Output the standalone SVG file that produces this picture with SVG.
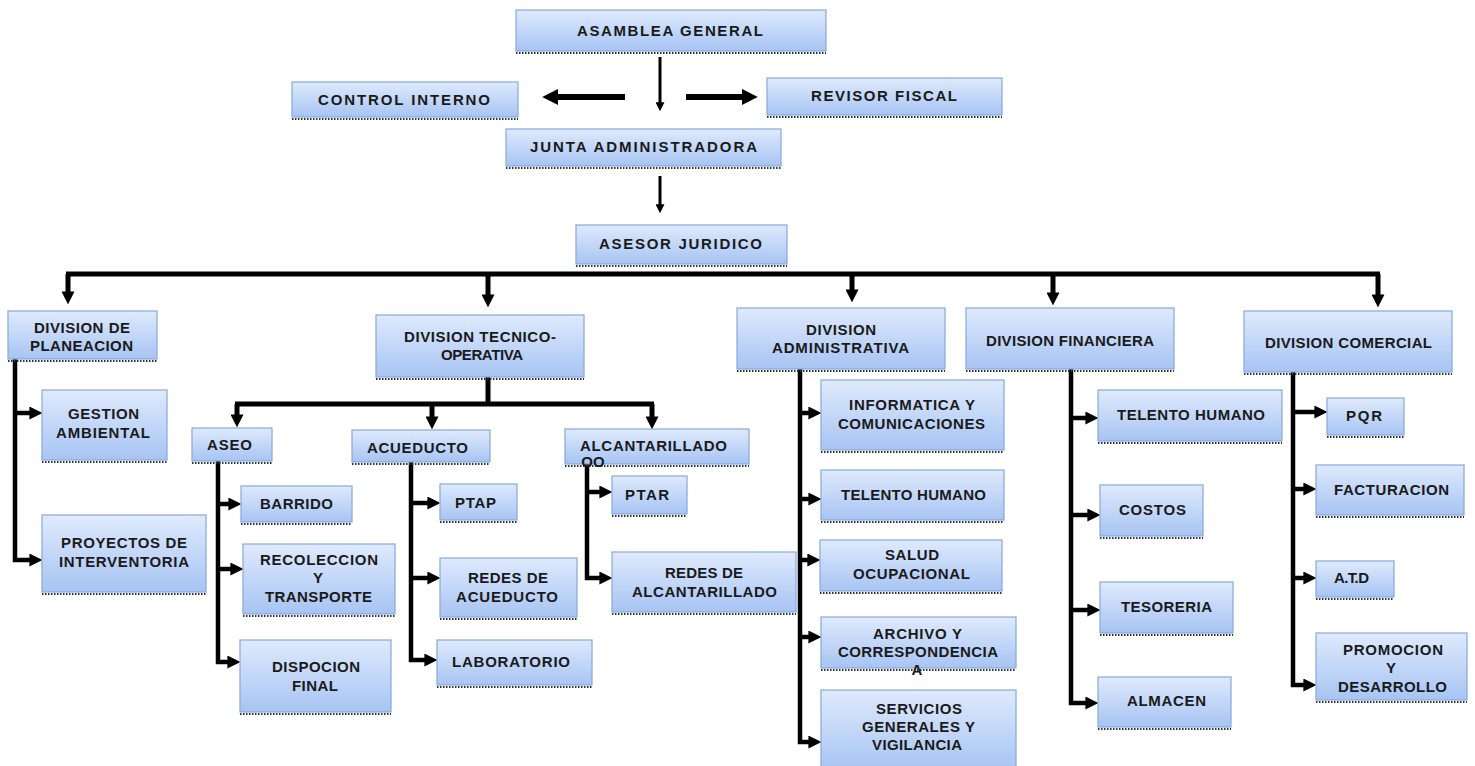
<svg xmlns="http://www.w3.org/2000/svg" width="1475" height="766" viewBox="0 0 1475 766">
<defs>
<linearGradient id="g" x1="0" y1="0" x2="0" y2="1">
<stop offset="0" stop-color="#dfeafd"/>
<stop offset="1" stop-color="#a7c4f3"/>
</linearGradient>
<marker id="ah" viewBox="0 0 10 10" refX="2" refY="5" markerWidth="13" markerHeight="13" markerUnits="userSpaceOnUse" orient="auto">
<path d="M0,0 L10,5 L0,10 z" fill="#000"/>
</marker>
<marker id="as" viewBox="0 0 10 10" refX="2" refY="5" markerWidth="9" markerHeight="9" markerUnits="userSpaceOnUse" orient="auto">
<path d="M0,0 L10,5 L0,10 z" fill="#000"/>
</marker>
<marker id="ab" viewBox="0 0 10 10" refX="2" refY="5" markerWidth="16" markerHeight="16" markerUnits="userSpaceOnUse" orient="auto">
<path d="M0,0 L10,5 L0,10 z" fill="#000"/>
</marker>
</defs>
<style>
.box{fill:url(#g);stroke:#86a8dc;stroke-width:1.2}
.dt{stroke:#333;stroke-width:2;stroke-dasharray:1.5 1.5;fill:none}
text{font-family:"Liberation Sans",Arial,sans-serif;font-size:15px;font-weight:bold;fill:#1a1a1a;text-anchor:middle}
.c{fill:none;stroke:#000;stroke-width:4.5}
.c3{fill:none;stroke:#000;stroke-width:3}
.c6{fill:none;stroke:#000;stroke-width:6}
.c5{fill:none;stroke:#000;stroke-width:5}
</style>
<rect width="1475" height="766" fill="#fff"/>

<g id="connectors">
<path class="c3" d="M660,57 V104" marker-end="url(#as)"/>
<path class="c6" d="M625,97 H555" marker-end="url(#ab)"/>
<path class="c6" d="M686,97 H745" marker-end="url(#ab)"/>
<path class="c3" d="M660,176 V206" marker-end="url(#as)"/>

<path class="c5" d="M66,274 H1380"/>
<path class="c5" d="M68,274 V294" marker-end="url(#ah)"/>
<path class="c5" d="M488,274 V297" marker-end="url(#ah)"/>
<path class="c5" d="M852,274 V292" marker-end="url(#ah)"/>
<path class="c5" d="M1053,274 V295" marker-end="url(#ah)"/>
<path class="c5" d="M1378,274 V297" marker-end="url(#ah)"/>

<path class="c" d="M15,359 V560 H32" marker-end="url(#ah)"/>
<path class="c" d="M15,413 H32" marker-end="url(#ah)"/>

<path class="c5" d="M488,377 V404"/>
<path class="c5" d="M235,404 H654"/>
<path class="c5" d="M237,404 V417" marker-end="url(#ah)"/>
<path class="c5" d="M432,404 V419" marker-end="url(#ah)"/>
<path class="c5" d="M652,404 V419" marker-end="url(#ah)"/>

<path class="c" d="M218,461 V662 H230" marker-end="url(#ah)"/>
<path class="c" d="M218,504 H231" marker-end="url(#ah)"/>
<path class="c" d="M218,569 H233" marker-end="url(#ah)"/>

<path class="c" d="M411,462 V660 H427" marker-end="url(#ah)"/>
<path class="c" d="M411,503 H430" marker-end="url(#ah)"/>
<path class="c" d="M411,578 H430" marker-end="url(#ah)"/>

<path class="c" d="M587,464 V578 H602" marker-end="url(#ah)"/>
<path class="c" d="M587,492 H602" marker-end="url(#ah)"/>

<path class="c" d="M800,369 V742 H811" marker-end="url(#ah)"/>
<path class="c" d="M800,413 H811" marker-end="url(#ah)"/>
<path class="c" d="M800,499 H811" marker-end="url(#ah)"/>
<path class="c" d="M800,560 H810" marker-end="url(#ah)"/>
<path class="c" d="M800,637 H811" marker-end="url(#ah)"/>

<path class="c" d="M1071,369 V703 H1088" marker-end="url(#ah)"/>
<path class="c" d="M1071,418 H1088" marker-end="url(#ah)"/>
<path class="c" d="M1071,515 H1090" marker-end="url(#ah)"/>
<path class="c" d="M1071,610 H1090" marker-end="url(#ah)"/>

<path class="c" d="M1293,372 V685 H1306" marker-end="url(#ah)"/>
<path class="c" d="M1293,412 H1317" marker-end="url(#ah)"/>
<path class="c" d="M1293,489 H1306" marker-end="url(#ah)"/>
<path class="c" d="M1293,578 H1306" marker-end="url(#ah)"/>
</g>

<g id="asamblea"><rect class="box" x="516" y="10" width="310" height="41"/><path class="dt" d="M516,53 H826"/><text x="670" y="36" textLength="186" lengthAdjust="spacing">ASAMBLEA GENERAL</text></g>
<g id="control"><rect class="box" x="292" y="82" width="226" height="35"/><path class="dt" d="M292,119 H518"/><text x="404" y="105" textLength="172" lengthAdjust="spacing">CONTROL INTERNO</text></g>
<g id="revisor"><rect class="box" x="767" y="78" width="235" height="37"/><path class="dt" d="M767,117 H1002"/><text x="884" y="101" textLength="146" lengthAdjust="spacing">REVISOR FISCAL</text></g>
<g id="junta"><rect class="box" x="506" y="129" width="275" height="37"/><path class="dt" d="M506,168 H781"/><text x="643.5" y="152" textLength="227" lengthAdjust="spacing">JUNTA ADMINISTRADORA</text></g>
<g id="asesor"><rect class="box" x="576" y="225" width="211" height="39"/><path class="dt" d="M576,266 H787"/><text x="680.5" y="249" textLength="163" lengthAdjust="spacing">ASESOR JURIDICO</text></g>

<g id="planeacion"><rect class="box" x="8" y="311" width="149" height="48"/><path class="dt" d="M8,361 H157"/><text x="82" y="333" textLength="96" lengthAdjust="spacing">DIVISION DE</text><text x="81.5" y="351" textLength="103" lengthAdjust="spacing">PLANEACION</text></g>
<g id="tecnico"><rect class="box" x="376" y="315" width="208" height="62"/><path class="dt" d="M376,379 H584"/><text x="480" y="342" textLength="152" lengthAdjust="spacing">DIVISION TECNICO-</text><text x="482" y="360" textLength="82" lengthAdjust="spacing">OPERATIVA</text></g>
<g id="administrativa"><rect class="box" x="737" y="308" width="208" height="61"/><path class="dt" d="M737,371 H945"/><text x="841" y="335" textLength="70" lengthAdjust="spacing">DIVISION</text><text x="840.5" y="353" textLength="137" lengthAdjust="spacing">ADMINISTRATIVA</text></g>
<g id="financiera"><rect class="box" x="966" y="308" width="208" height="61"/><path class="dt" d="M966,371 H1174"/><text x="1070" y="346" textLength="168" lengthAdjust="spacing">DIVISION FINANCIERA</text></g>
<g id="comercial"><rect class="box" x="1244" y="311" width="208" height="61"/><path class="dt" d="M1244,374 H1452"/><text x="1348.5" y="348" textLength="167" lengthAdjust="spacing">DIVISION COMERCIAL</text></g>

<g id="gestion"><rect class="box" x="42" y="390" width="125" height="70"/><path class="dt" d="M42,462 H167"/><text x="103.5" y="419" textLength="71" lengthAdjust="spacing">GESTION</text><text x="103" y="438" textLength="94" lengthAdjust="spacing">AMBIENTAL</text></g>
<g id="proyectos"><rect class="box" x="42" y="515" width="164" height="77"/><path class="dt" d="M42,594 H206"/><text x="124" y="548" textLength="126" lengthAdjust="spacing">PROYECTOS DE</text><text x="124" y="567" textLength="130" lengthAdjust="spacing">INTERVENTORIA</text></g>

<g id="aseo"><rect class="box" x="192" y="428" width="80" height="33"/><path class="dt" d="M192,463 H272"/><text x="229.5" y="450" textLength="45" lengthAdjust="spacing">ASEO</text></g>
<g id="acueducto"><rect class="box" x="352" y="430" width="138" height="32"/><path class="dt" d="M352,464 H490"/><text x="417.5" y="453" textLength="101" lengthAdjust="spacing">ACUEDUCTO</text></g>
<g id="alcantarillado"><rect class="box" x="565" y="429" width="184" height="35"/><path class="dt" d="M565,466 H749"/><text x="653.5" y="451" textLength="147" lengthAdjust="spacing">ALCANTARILLADO</text><text x="593" y="467">OO</text></g>

<g id="barrido"><rect class="box" x="241" y="486" width="111" height="36"/><path class="dt" d="M241,524 H352"/><text x="296.5" y="509" textLength="73" lengthAdjust="spacing">BARRIDO</text></g>
<g id="recoleccion"><rect class="box" x="243" y="544" width="152" height="70"/><path class="dt" d="M243,616 H395"/><text x="319" y="565" textLength="118" lengthAdjust="spacing">RECOLECCION</text><text x="318" y="583">Y</text><text x="318.5" y="602" textLength="107" lengthAdjust="spacing">TRANSPORTE</text></g>
<g id="dispocion"><rect class="box" x="240" y="640" width="151" height="72"/><path class="dt" d="M240,714 H391"/><text x="316" y="672" textLength="88" lengthAdjust="spacing">DISPOCION</text><text x="315" y="691" textLength="46" lengthAdjust="spacing">FINAL</text></g>

<g id="ptap"><rect class="box" x="440" y="484" width="77" height="36"/><path class="dt" d="M440,522 H517"/><text x="475.5" y="508" textLength="41" lengthAdjust="spacing">PTAP</text></g>
<g id="redes-acueducto"><rect class="box" x="440" y="558" width="137" height="59"/><path class="dt" d="M440,619 H577"/><text x="508" y="583" textLength="80" lengthAdjust="spacing">REDES DE</text><text x="507" y="602" textLength="102" lengthAdjust="spacing">ACUEDUCTO</text></g>
<g id="laboratorio"><rect class="box" x="437" y="640" width="155" height="45"/><path class="dt" d="M437,687 H592"/><text x="511" y="667" textLength="118" lengthAdjust="spacing">LABORATORIO</text></g>

<g id="ptar"><rect class="box" x="612" y="476" width="75" height="38"/><path class="dt" d="M612,516 H687"/><text x="647" y="500" textLength="44" lengthAdjust="spacing">PTAR</text></g>
<g id="redes-alcantarillado"><rect class="box" x="612" y="552" width="184" height="60"/><path class="dt" d="M612,614 H796"/><text x="704" y="578" textLength="78" lengthAdjust="spacing">REDES DE</text><text x="704.5" y="597" textLength="145" lengthAdjust="spacing">ALCANTARILLADO</text></g>

<g id="informatica"><rect class="box" x="821" y="380" width="183" height="70"/><path class="dt" d="M821,452 H1004"/><text x="912" y="410" textLength="126" lengthAdjust="spacing">INFORMATICA Y</text><text x="911.5" y="429" textLength="147" lengthAdjust="spacing">COMUNICACIONES</text></g>
<g id="talento-adm"><rect class="box" x="821" y="470" width="183" height="50"/><path class="dt" d="M821,522 H1004"/><text x="913.5" y="500" textLength="145" lengthAdjust="spacing">TELENTO HUMANO</text></g>
<g id="salud"><rect class="box" x="820" y="540" width="182" height="51"/><path class="dt" d="M820,593 H1002"/><text x="912" y="560" textLength="54" lengthAdjust="spacing">SALUD</text><text x="911.5" y="579" textLength="117" lengthAdjust="spacing">OCUPACIONAL</text></g>
<g id="archivo"><rect class="box" x="821" y="617" width="195" height="51"/><path class="dt" d="M821,670 H1016"/><text x="917.5" y="639" textLength="89" lengthAdjust="spacing">ARCHIVO Y</text><text x="918" y="657" textLength="160" lengthAdjust="spacing">CORRESPONDENCIA</text><text x="917" y="675">A</text></g>
<g id="servicios"><rect class="box" x="821" y="690" width="195" height="80"/><text x="919" y="714" textLength="86" lengthAdjust="spacing">SERVICIOS</text><text x="918.5" y="732" textLength="113" lengthAdjust="spacing">GENERALES Y</text><text x="917" y="750" textLength="90" lengthAdjust="spacing">VIGILANCIA</text></g>

<g id="talento-fin"><rect class="box" x="1098" y="390" width="184" height="51"/><path class="dt" d="M1098,443 H1282"/><text x="1191" y="420" textLength="148" lengthAdjust="spacing">TELENTO HUMANO</text></g>
<g id="costos"><rect class="box" x="1100" y="485" width="103" height="51"/><path class="dt" d="M1100,538 H1203"/><text x="1152.5" y="515" textLength="67" lengthAdjust="spacing">COSTOS</text></g>
<g id="tesoreria"><rect class="box" x="1100" y="582" width="133" height="51"/><path class="dt" d="M1100,635 H1233"/><text x="1166.5" y="612" textLength="91" lengthAdjust="spacing">TESORERIA</text></g>
<g id="almacen"><rect class="box" x="1098" y="677" width="133" height="50"/><path class="dt" d="M1098,729 H1231"/><text x="1166.5" y="706" textLength="79" lengthAdjust="spacing">ALMACEN</text></g>

<g id="pqr"><rect class="box" x="1327" y="398" width="77" height="37"/><path class="dt" d="M1327,437 H1404"/><text x="1364" y="421" textLength="36" lengthAdjust="spacing">PQR</text></g>
<g id="facturacion"><rect class="box" x="1316" y="465" width="148" height="50"/><path class="dt" d="M1316,517 H1464"/><text x="1391.5" y="495" textLength="115" lengthAdjust="spacing">FACTURACION</text></g>
<g id="atd"><rect class="box" x="1316" y="561" width="78" height="36"/><path class="dt" d="M1316,599 H1394"/><text x="1351.5" y="583" textLength="35" lengthAdjust="spacing">A.T.D</text></g>
<g id="promocion"><rect class="box" x="1316" y="633" width="151" height="67"/><path class="dt" d="M1316,702 H1467"/><text x="1393" y="655" textLength="100" lengthAdjust="spacing">PROMOCION</text><text x="1391" y="673">Y</text><text x="1392.5" y="692" textLength="109" lengthAdjust="spacing">DESARROLLO</text></g>
</svg>
